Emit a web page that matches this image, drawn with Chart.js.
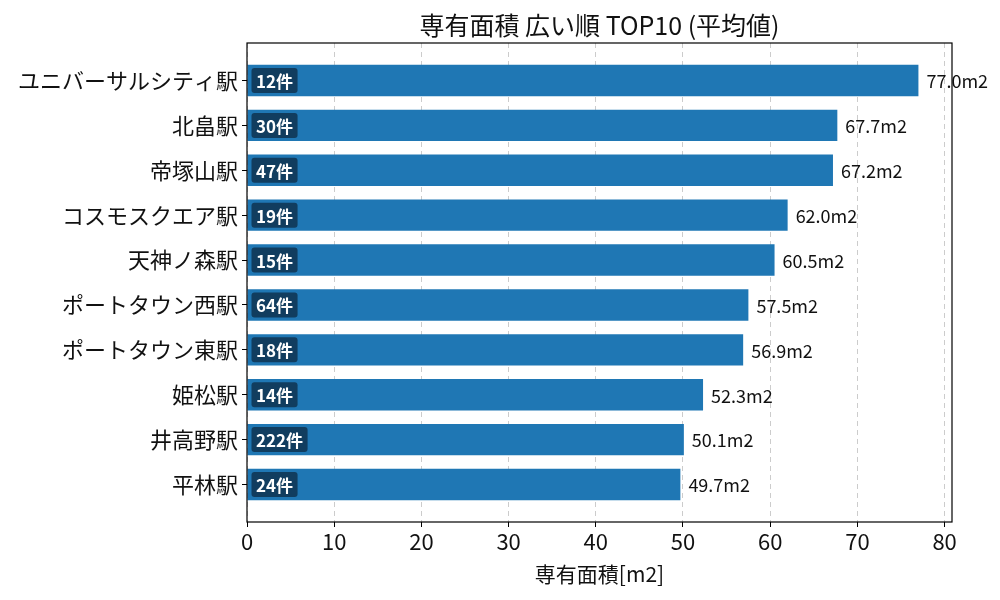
<!DOCTYPE html>
<html><head><meta charset="utf-8">
<script src="https://cdn.jsdelivr.net/npm/chart.js@4.4.0/dist/chart.umd.min.js"></script>
<style>html,body{margin:0;padding:0;background:#fff}#wrap{width:1000px;height:600px}</style>
</head><body><div id="wrap"><canvas id="c" width="1000" height="600"></canvas></div>
<script>
const stations = ["ユニバーサルシティ駅","北畠駅","帝塚山駅","コスモスクエア駅","天神ノ森駅","ポートタウン西駅","ポートタウン東駅","姫松駅","井高野駅","平林駅"];
const areas = [77.0, 67.7, 67.2, 62.0, 60.5, 57.5, 56.9, 52.3, 50.1, 49.7];
const counts = [12, 30, 47, 19, 15, 64, 18, 14, 222, 24];
const xTicks = [0, 10, 20, 30, 40, 50, 60, 70, 80];

const FONT = "'Noto Sans CJK JP','Noto Sans',sans-serif";

const labelsPlugin = {
  id: 'labels',
  afterDatasetsDraw(chart) {
    const ctx = chart.ctx;
    const meta = chart.getDatasetMeta(0);
    ctx.save();
    meta.data.forEach((bar, i) => {
      ctx.font = "18px " + FONT;
      ctx.fillStyle = '#111';
      ctx.textAlign = 'left';
      ctx.textBaseline = 'middle';
      ctx.fillText(areas[i].toFixed(1) + 'm2', bar.x + 8, bar.y + 1);
      const txt = counts[i] + '件';
      ctx.font = "bold 17px " + FONT;
      const w = ctx.measureText(txt).width;
      const x0 = bar.base + 4, h = 25;
      ctx.fillStyle = 'rgba(15,50,80,0.85)';
      ctx.beginPath();
      ctx.roundRect(x0, bar.y - h / 2, w + 9, h, 3);
      ctx.fill();
      ctx.fillStyle = '#fff';
      ctx.fillText(txt, x0 + 4.5, bar.y + 1);
    });
    ctx.restore();
  },
  afterDraw(chart) {
    const a = chart.chartArea, ctx = chart.ctx;
    ctx.save();
    ctx.strokeStyle = '#000';
    ctx.lineWidth = 1.2;
    ctx.strokeRect(a.left, a.top, a.right - a.left, a.bottom - a.top);
    ctx.restore();
  }
};

new Chart(document.getElementById('c'), {
  type: 'bar',
  data: {
    datasets: [{
      data: areas.map((v, i) => ({ x: v, y: i })),
      backgroundColor: '#1f77b4',
      borderWidth: 0,
      barPercentage: 0.7,
      categoryPercentage: 1.0
    }]
  },
  options: {
    indexAxis: 'y',
    responsive: false,
    animation: false,
    devicePixelRatio: 1,
    layout: { padding: { left: 10, right: 48, top: 0, bottom: 0 } },
    plugins: {
      legend: { display: false },
      tooltip: { enabled: false },
      title: {
        display: true,
        fullSize: false,
        text: '専有面積 広い順 TOP10 (平均値)',
        color: '#111',
        font: { family: FONT, size: 25, weight: 'normal' },
        padding: { top: 10, bottom: 3 }
      }
    },
    scales: {
      x: {
        type: 'linear',
        min: 0, max: 80.85,
        offset: false,
        afterBuildTicks: axis => { axis.ticks = xTicks.map(v => ({ value: v })); },
        afterFit: s => { s.height = 78; },
        grid: {
          color: '#cccccc', lineWidth: 1, offset: false,
          tickColor: '#000', tickLength: 5, tickBorderDash: [], tickWidth: 1
        },
        border: { display: false, dash: [5, 4] },
        ticks: { color: '#111', font: { family: FONT, size: 22 }, padding: 1, maxRotation: 0 },
        title: { display: true, text: '専有面積[m2]', color: '#111', font: { family: FONT, size: 21 }, padding: { top: 0, bottom: 13 } }
      },
      y: {
        type: 'linear',
        reverse: true,
        offset: false,
        min: -0.835, max: 9.835,
        afterBuildTicks: axis => { axis.ticks = stations.map((_, i) => ({ value: i })); },
        afterFit: s => { s.width = 237; },
        grid: { drawOnChartArea: false, offset: false, tickColor: '#000', tickLength: 5 },
        border: { display: false },
        ticks: {
          color: '#111', font: { family: FONT, size: 22 }, padding: 4,
          callback: v => stations[v]
        }
      }
    }
  },
  plugins: [labelsPlugin]
});
</script>
</body></html>
